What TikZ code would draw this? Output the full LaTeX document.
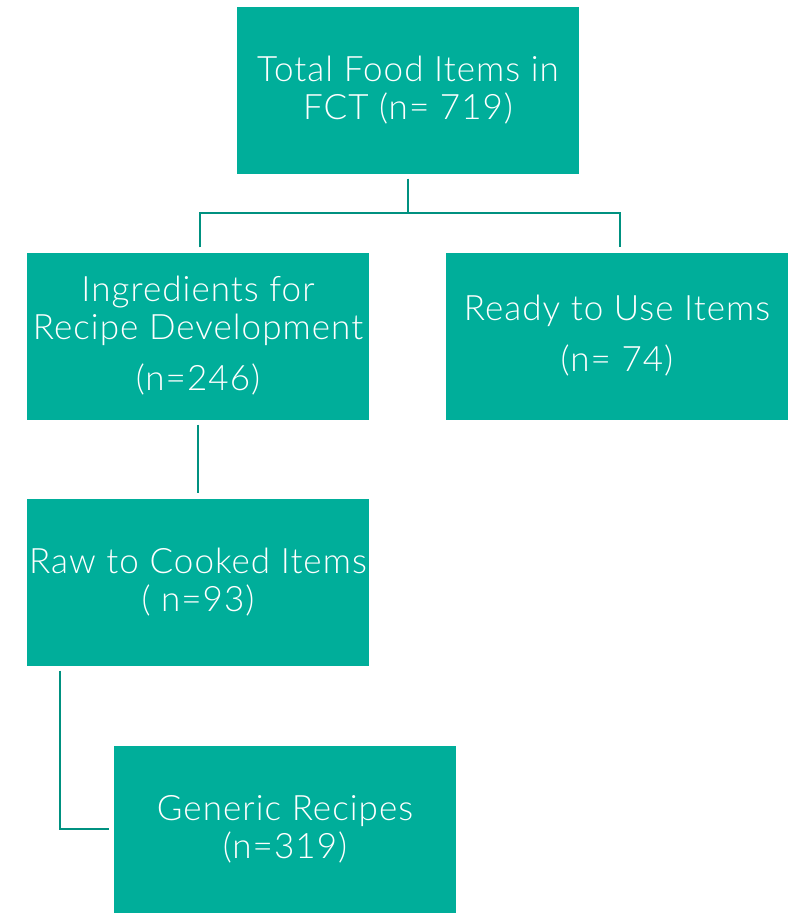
\documentclass[tikz,border=0pt]{standalone}
\usepackage{fontspec}
\setmainfont{Lato}[UprightFont=* Light,LetterSpace=3]
\definecolor{boxteal}{RGB}{0,174,154}
\definecolor{lineteal}{RGB}{0,145,128}
\begin{document}
\begin{tikzpicture}[x=1pt,y=-1pt,
  every node/.style={fill=boxteal,text=white,minimum width=342pt,minimum height=167pt,
    inner sep=0pt,align=center,font=\fontsize{35}{38}\selectfont},
  link/.style={draw=lineteal,line width=2.6pt}]
\useasboundingbox (0,0) rectangle (800,914);
\node (top) at (408,90) {Total Food Items in\\FCT (n= 719)};
\node (ingr) at (198,336) {Ingredients for\\Recipe Development\\[13pt](n=246)};
\node (ready) at (617,336) {Ready to Use Items\\[13pt](n= 74)};
\node (raw) at (198,582) {Raw to Cooked Items\\( n=93)};
\node (generic) at (285,829) {Generic Recipes\\(n=319)};
\coordinate (split) at (408,213);
\draw[link] ([yshift=-5pt]top.south) -- (split);
\draw[link] ([xshift=2pt,yshift=5pt]ingr.north) |- (split) -| ([xshift=3pt,yshift=5pt]ready.north);
\draw[link] ([yshift=-5pt]ingr.south) -- ([yshift=5pt]raw.north);
\draw[link] ([xshift=33pt,yshift=-5pt]raw.south west) |- ([xshift=-5pt]generic.west);
\end{tikzpicture}
\end{document}
